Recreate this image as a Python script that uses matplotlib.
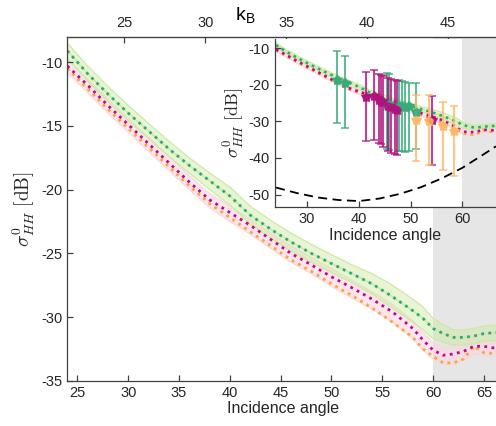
import numpy as np
import matplotlib
matplotlib.use('Agg')
import matplotlib.pyplot as plt

plt.rcParams['font.family'] = ['Liberation Sans', 'DejaVu Sans']
plt.rcParams['mathtext.fontset'] = 'cm'
plt.rcParams['axes.unicode_minus'] = False

# incidence angles where curves were read
ang = [24, 26, 28, 30, 32, 34, 36, 38, 40, 42, 44, 46, 48, 50, 52, 54, 56, 58, 59,
       60, 61, 62, 63, 64, 65, 66.5]

green_mean = [-9.1, -10.9, -12.5, -14.0, -15.4, -16.8, -18.1, -19.3, -20.5, -22.0, -23.1,
              -24.1, -25.0, -25.8, -26.6, -27.4, -28.4, -29.5, -30.1, -30.9, -31.3, -31.6,
              -31.6, -31.5, -31.3, -31.2]
green_hi = [-8.5, -10.3, -11.9, -13.4, -14.8, -16.2, -17.5, -18.7, -19.8, -21.3, -22.4,
            -23.4, -24.3, -25.1, -25.9, -26.6, -27.5, -28.6, -29.2, -30.1, -30.6, -31.0,
            -31.0, -30.9, -30.7, -30.6]
green_lo = [-9.7, -11.5, -13.1, -14.6, -16.0, -17.4, -18.7, -20.0, -21.2, -22.7, -23.8,
            -24.8, -25.7, -26.5, -27.3, -28.2, -29.3, -30.4, -31.0, -31.7, -32.0, -32.2,
            -32.2, -32.1, -31.9, -31.8]

mag_mean = [-10.3, -11.8, -13.4, -14.9, -16.4, -17.9, -19.4, -20.8, -21.8, -22.8, -23.9,
            -25.0, -25.9, -26.85, -27.7, -28.6, -29.6, -30.9, -31.8, -32.6, -33.0, -32.9,
            -32.7, -32.3, -32.3, -32.5]
pink_hi = [-9.8, -11.3, -12.9, -14.4, -15.9, -17.4, -18.9, -20.3, -21.3, -22.3, -23.4,
           -24.4, -25.3, -26.2, -27.1, -28.0, -29.0, -30.3, -31.2, -32.0, -32.4, -32.3,
           -32.1, -31.8, -31.8, -32.0]
pink_lo = [-10.8, -12.4, -14.0, -15.5, -17.0, -18.5, -20.0, -21.4, -22.5, -23.5, -24.6,
           -25.7, -26.6, -27.6, -28.5, -29.4, -30.4, -31.7, -32.6, -33.3, -33.7, -33.7,
           -33.4, -32.9, -33.0, -33.2]

orange_mean = [-10.5, -12.1, -13.7, -15.2, -16.7, -18.2, -19.7, -21.1, -22.2, -23.3, -24.4,
               -25.5, -26.4, -27.4, -28.3, -29.3, -30.4, -31.6, -32.5, -33.1, -33.6, -33.6,
               -33.3, -32.3, -32.8, -32.9]

# noise floor curve (inset)
nf_ang = [24, 28, 32, 36, 40, 44, 48, 52, 56, 60, 64, 66.5]
nf_db = [-48.1, -49.6, -50.8, -51.5, -51.8, -51.1, -49.8, -48.0, -45.6, -42.7, -39.1, -36.8]

# measurements in the inset: angle, mean, low, high
g_ang = [35.8, 37.4, 45.5, 45.9, 47.8, 48.4, 49.0, 49.6, 51.0]
g_val = [-18.6, -19.5, -25.4, -25.2, -25.9, -25.7, -26.0, -25.9, -27.5]
g_lo = [-30.4, -31.8, -37.5, -37.7, -38.2, -38.0, -38.3, -38.2, -37.5]
g_hi = [-10.7, -12.0, -16.6, -17.0, -18.6, -18.9, -19.2, -19.5, -19.4]

m_ang = [41.4, 42.9, 43.8, 44.2, 44.6, 45.7, 46.3, 46.9, 47.4, 54.1]
m_val = [-23.4, -23.0, -24.1, -24.4, -24.8, -25.9, -26.0, -26.5, -26.8, -29.5]
m_lo = [-35.3, -35.0, -35.9, -36.3, -36.9, -38.2, -38.5, -38.8, -39.1, -41.8]
m_hi = [-16.4, -15.9, -17.0, -17.3, -17.5, -18.2, -18.4, -18.6, -18.8, -23.0]

o_ang = [51.0, 53.6, 56.2, 58.4]
o_val = [-29.5, -30.0, -31.2, -32.7]
o_lo = [-40.9, -41.8, -43.2, -44.8]
o_hi = [-22.7, -22.7, -24.6, -25.7]

c_green = '#2fa878'
c_mag = '#c0088a'
c_orange = '#ffa33f'
c_band_g = '#cdeaa2'
c_band_p = '#fad6de'
c_spine = '#404040'
c_text = '#262626'

fig = plt.figure(figsize=(4.96, 4.26), dpi=100)
ax = fig.add_axes([0.1357, 0.1063, 0.8706, 0.8075])


def draw_curves(a, lw):
    a.axvspan(60, 70, color='#e6e6e6', lw=0, zorder=0)
    a.fill_between(ang, pink_lo, pink_hi, color=c_band_p, alpha=0.6, lw=0, zorder=1)
    a.plot(ang, pink_hi, color=c_band_p, lw=0.8, zorder=1)
    a.plot(ang, pink_lo, color=c_band_p, lw=0.8, zorder=1)
    a.fill_between(ang, green_lo, green_hi, color=c_band_g, alpha=0.45, lw=0, zorder=1)
    a.plot(ang, green_hi, color=c_band_g, lw=0.9, zorder=1)
    a.plot(ang, green_lo, color=c_band_g, lw=0.9, zorder=1)
    a.plot(ang, green_mean, color=c_band_g, lw=1.2, zorder=1)
    a.plot(ang, orange_mean, color=c_orange, lw=lw, ls=(0, (1, 1.6)), zorder=2)
    a.plot(ang, mag_mean, color=c_mag, lw=lw, ls=(0, (1, 1.6)), zorder=2)
    a.plot(ang, green_mean, color=c_green, lw=lw, ls=(0, (1, 1.6)), zorder=2)


def style(a):
    for s in ['left', 'bottom', 'top']:
        a.spines[s].set_color(c_spine)
        a.spines[s].set_linewidth(0.9)
    a.tick_params(direction='in', length=4, width=0.9, colors=c_spine,
                  labelcolor=c_text, labelsize=10.5)


draw_curves(ax, 2.0)
ax.set_xlim(24, 66.5)
ax.set_ylim(-35, -8)
ax.set_xticks([25, 30, 35, 40, 45, 50, 55, 60, 65])
ax.set_yticks([-35, -30, -25, -20, -15, -10])
ax.set_xlabel('Incidence angle', fontsize=11.5, color=c_text, labelpad=1)
ax.set_ylabel(r'$\sigma^0_{HH}\ \mathrm{[dB]}$', fontsize=14, color=c_text, labelpad=3)
style(ax)
ax.spines['right'].set_visible(False)

# Bragg wavenumber on top axis
kb = ax.secondary_xaxis('top', functions=(lambda t: 6.40 + 0.628 * t,
                                          lambda k: (k - 6.40) / 0.628))
kb.set_xticks([25, 30, 35, 40, 45])
kb.tick_params(direction='in', length=4, width=0.9, colors=c_spine,
               labelcolor=c_text, labelsize=10.5, pad=5)
kb.spines['top'].set_color(c_spine)
fig.text(0.474, 0.962, r'k$_\mathregular{B}$', fontsize=14, color='black',
         ha='left', va='center')

# inset
ins = fig.add_axes([0.5544, 0.5134, 0.4456, 0.3944])
ins.set_facecolor('white')
draw_curves(ins, 1.9)
ins.plot(nf_ang, nf_db, color='black', lw=1.3, ls=(0, (5, 3)), zorder=2)

for xs, ys, lo, hi, c in [(g_ang, g_val, g_lo, g_hi, '#3aaa7a'),
                          (m_ang, m_val, m_lo, m_hi, '#b0127e'),
                          (o_ang, o_val, o_lo, o_hi, '#ffb866')]:
    ys = np.array(ys)
    yerr = [ys - np.array(lo), np.array(hi) - ys]
    ins.errorbar(xs, ys, yerr=yerr, fmt='o', color=c, ms=5, elinewidth=1.5,
                 capsize=3, capthick=1.2, alpha=0.8, zorder=3)
    ins.plot(xs, ys, '*', color=c, ms=7, alpha=0.9, zorder=3)

ins.set_xlim(23.8, 66.5)
ins.set_ylim(-53.5, -7.5)
ins.set_xticks([30, 40, 50, 60])
ins.set_yticks([-50, -40, -30, -20, -10])
ins.set_xlabel('Incidence angle', fontsize=11.5, color=c_text, labelpad=1)
ins.set_ylabel(r'$\sigma^0_{HH}\ \mathrm{[dB]}$', fontsize=13, color=c_text, labelpad=1)
style(ins)
ins.spines['right'].set_visible(False)
ins.spines['top'].set_visible(False)

fig.savefig('out.png', dpi=100)
